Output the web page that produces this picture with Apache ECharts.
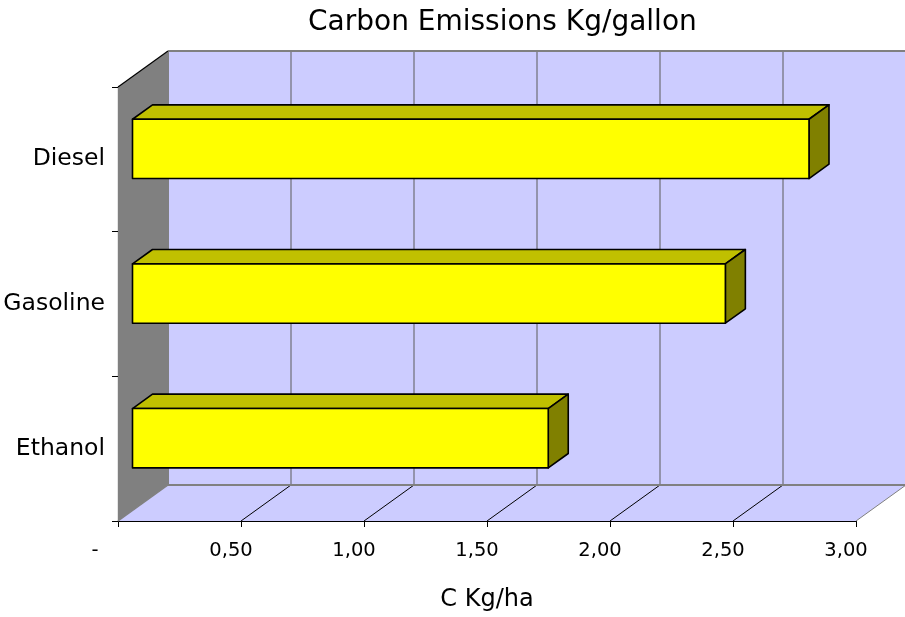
<!DOCTYPE html>
<html>
<head>
<meta charset="utf-8">
<script src="https://cdn.jsdelivr.net/npm/echarts@6/dist/echarts.min.js"></script>
<style>
  html, body { margin: 0; padding: 0; background: #ffffff; }
  #chart { width: 905px; height: 617px; }
</style>
</head>
<body>
<div id="chart"></div>
<script>
// Carbon emitted per gallon of fuel burned
const categories = ['Diesel', 'Gasoline', 'Ethanol'];
const emissions = [2.75, 2.41, 1.69];
const valueTicks = [0, 0.5, 1, 1.5, 2, 2.5, 3];

const FONT = 'DejaVu Sans';
// perspective offset of the back plane relative to the front plane
const DEPTH = [50, -36];
const BAR_FRONT = 0.29;   // bar front face as a fraction of the depth
const BAR_BACK = 0.69;    // bar back face as a fraction of the depth
const BAR_HEIGHT = 0.41;  // bar thickness as a fraction of the category band

function fmtValue(v) {
  if (v === 0) return '{z|-}';
  return '{n|' + v.toFixed(2).replace('.', ',') + '}';
}

const chart = echarts.init(document.getElementById('chart'), null, { renderer: 'canvas' });

// floor, side wall, back wall and their grid lines
function renderWalls(params, api) {
  const cs = params.coordSys;
  const x0 = cs.x, y0 = cs.y, w = cs.width, h = cs.height;
  const dx = DEPTH[0], dy = DEPTH[1];
  const grey = '#808080';
  const children = [];
  // back wall
  children.push({ type: 'rect', shape: { x: x0 + dx, y: y0 + dy, width: w, height: h },
    style: { fill: '#ccccff', stroke: null } });
  // floor
  children.push({ type: 'polygon', shape: { points: [[x0, y0 + h], [x0 + dx, y0 + h + dy], [x0 + w + dx, y0 + h + dy], [x0 + w, y0 + h]] },
    style: { fill: '#ccccff', stroke: null } });
  // left wall
  children.push({ type: 'polygon', shape: { points: [[x0, y0], [x0 + dx, y0 + dy], [x0 + dx, y0 + h + dy], [x0, y0 + h]] },
    style: { fill: '#808080', stroke: null } });
  // grid lines on the back wall and on the floor
  valueTicks.forEach(function (v) {
    const xv = api.coord([v, 0])[0];
    if (v > 0) {
      children.push({ type: 'line', shape: { x1: xv + dx, y1: y0 + dy, x2: xv + dx, y2: y0 + h + dy },
        style: { stroke: '#5a5a5a', lineWidth: 1 } });
      children.push({ type: 'line', shape: { x1: xv, y1: y0 + h, x2: xv + dx, y2: y0 + h + dy },
        style: { stroke: v === 3 ? grey : '#000000', lineWidth: 1 } });
    }
  });
  // wall edges
  children.push({ type: 'line', shape: { x1: x0 + dx, y1: y0 + dy, x2: x0 + w + dx, y2: y0 + dy },
    style: { stroke: grey, lineWidth: 2 } });
  children.push({ type: 'line', shape: { x1: x0 + dx, y1: y0 + h + dy, x2: x0 + w + dx, y2: y0 + h + dy },
    style: { stroke: grey, lineWidth: 2 } });
  children.push({ type: 'line', shape: { x1: x0 + dx, y1: y0 + dy, x2: x0 + dx, y2: y0 + h + dy },
    style: { stroke: grey, lineWidth: 2 } });
  children.push({ type: 'line', shape: { x1: x0, y1: y0 + h, x2: x0 + dx, y2: y0 + h + dy },
    style: { stroke: grey, lineWidth: 1.5 } });
  children.push({ type: 'line', shape: { x1: x0, y1: y0, x2: x0 + dx, y2: y0 + dy },
    style: { stroke: '#000000', lineWidth: 1.2 } });
  return { type: 'group', children: children };
}

// 3-D box for each fuel
function renderBox(params, api) {
  const idx = api.value(1);
  const val = api.value(0);
  const p0 = api.coord([0, idx]);
  const p1 = api.coord([val, idx]);
  const band = api.size([0, 1])[1];
  const bh = band * BAR_HEIGHT;
  const fx = DEPTH[0] * BAR_FRONT, fy = DEPTH[1] * BAR_FRONT;
  const bx = DEPTH[0] * (BAR_BACK - BAR_FRONT), by = DEPTH[1] * (BAR_BACK - BAR_FRONT);
  const left = p0[0] + fx, right = p1[0] + fx;
  const top = p0[1] + fy - bh / 2, bottom = p0[1] + fy + bh / 2;
  const edge = { stroke: '#000000', lineWidth: 1.6, lineJoin: 'round' };
  return {
    type: 'group',
    children: [
      { type: 'polygon', shape: { points: [[left, top], [left + bx, top + by], [right + bx, top + by], [right, top]] },
        style: Object.assign({ fill: '#c0c000' }, edge) },
      { type: 'polygon', shape: { points: [[right, top], [right + bx, top + by], [right + bx, bottom + by], [right, bottom]] },
        style: Object.assign({ fill: '#808000' }, edge) },
      { type: 'rect', shape: { x: left, y: top, width: right - left, height: bottom - top },
        style: Object.assign({ fill: '#ffff00' }, edge) }
    ]
  };
}

const option = {
  animation: false,
  backgroundColor: '#ffffff',
  title: {
    text: 'Carbon Emissions Kg/gallon',
    left: 303,
    top: 4,
    textStyle: { fontFamily: FONT, fontSize: 28, fontWeight: 'normal', color: '#000000' }
  },
  grid: { left: 118, right: 49, top: 87, bottom: 95 },
  xAxis: {
    type: 'value',
    min: 0,
    max: 3,
    interval: 0.5,
    axisLine: { show: true, lineStyle: { color: '#000000', width: 1.2 } },
    axisTick: { show: true, length: 6, lineStyle: { color: '#000000' } },
    splitLine: { show: false },
    axisLabel: {
      margin: 20,
      color: '#000000',
      fontFamily: FONT,
      fontSize: 19.5,
      formatter: fmtValue,
      rich: {
        n: { fontFamily: FONT, fontSize: 19.5, color: '#000000', padding: [0, 20, 0, 0] },
        z: { fontFamily: FONT, fontSize: 19.5, color: '#000000', padding: [0, 46, 0, 0] }
      }
    },
    name: 'C Kg/ha',
    nameLocation: 'middle',
    nameGap: 67,
    nameTextStyle: { fontFamily: FONT, fontSize: 24, color: '#000000' }
  },
  yAxis: {
    type: 'category',
    data: categories,
    inverse: true,
    axisLine: { show: true, lineStyle: { color: '#000000', width: 1.2 } },
    axisTick: { show: true, length: 6, lineStyle: { color: '#000000' } },
    splitLine: { show: false },
    axisLabel: { margin: 13, color: '#000000', fontFamily: FONT, fontSize: 23.5, padding: [5, 0, 0, 0] }
  },
  series: [
    {
      type: 'custom',
      renderItem: renderWalls,
      data: [[0, 0]],
      z: 1,
      silent: true
    },
    {
      type: 'custom',
      renderItem: renderBox,
      data: emissions.map(function (v, i) { return [v, i]; }),
      encode: { x: 0, y: 1 },
      z: 2
    }
  ]
};

chart.setOption(option);
</script>
</body>
</html>
